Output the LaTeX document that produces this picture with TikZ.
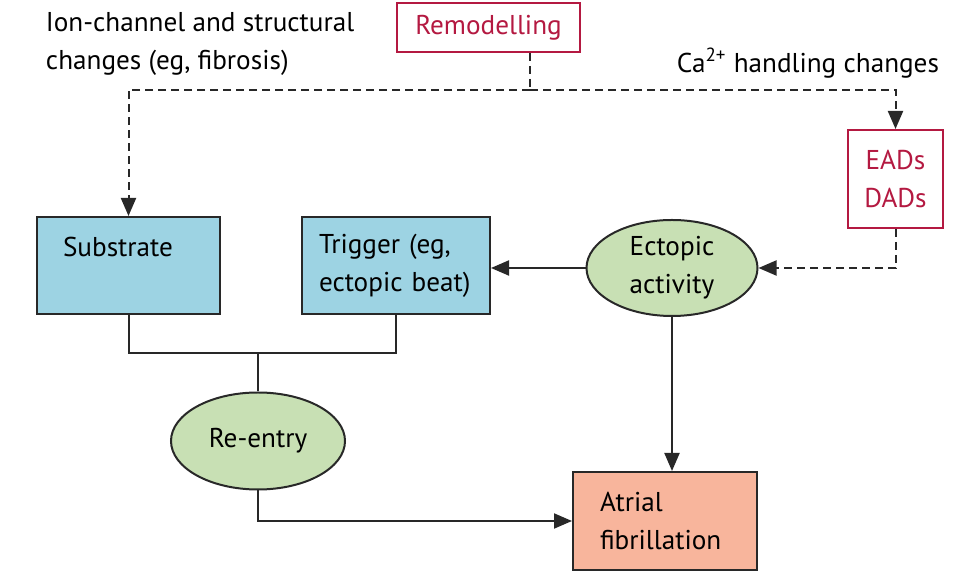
\documentclass[tikz,border=0pt]{standalone}
\usepackage{fontspec}
\setmainfont{PT Sans}
\usetikzlibrary{arrows.meta,shapes.geometric}

\definecolor{afred}{RGB}{180,25,65}
\definecolor{subblue}{RGB}{157,211,227}
\definecolor{ovgreen}{RGB}{200,224,180}
\definecolor{afpink}{RGB}{248,181,156}
\definecolor{edge}{RGB}{40,40,40}

\tikzset{every picture/.style={line width=1pt}}
\tikzset{
  box/.style={draw=edge, rectangle, align=left, inner xsep=0pt, inner ysep=0pt},
  oval/.style={draw=edge, ellipse, fill=ovgreen, align=center, inner sep=0pt},
  redbox/.style={draw=afred, text=afred, rectangle, align=center, inner sep=0pt},
  arr/.style={draw=edge, -{Triangle[length=9pt,width=7.5pt]}},
  dasharr/.style={arr, dash pattern=on 4pt off 2.5pt},
  dashline/.style={draw=edge, dash pattern=on 4pt off 2.5pt}
}

\begin{document}
\begin{tikzpicture}[x=0.5pt,y=-0.5pt]
\fontsize{13.6}{19}\selectfont
\useasboundingbox (0,0) rectangle (980,581);
% top labels
\node (remod) [redbox, minimum width=91.5pt, minimum height=24.5pt] at (488.5,27.5) {Remodelling};
\node (ionlbl) [anchor=west, align=left, inner sep=0pt] at (45,44) {Ion-channel and structural\\changes (eg, fibrosis)};
\node (calbl) [anchor=east, inner sep=0pt] at (940,63) {Ca\textsuperscript{2+} handling changes};
\node (eads) [redbox, minimum width=47.5pt, minimum height=49pt] at (895.5,179) {EADs\\DADs};
% middle row
\node (substrate) [box, fill=subblue, minimum width=91.5pt, minimum height=48.5pt, text width=65.5pt] at (128.5,265.5) {Substrate\\\mbox{}};
\node (trigger) [box, fill=subblue, minimum width=94pt, minimum height=48.5pt, text width=77pt] at (396,265.5) {Trigger (eg,\\ectopic beat)};
\node (ectopic) [oval, minimum width=85.5pt, minimum height=48pt] at (672,268) {Ectopic\\activity};
% bottom row
\node (reentry) [oval, minimum width=87pt, minimum height=48.5pt] at (258,441) {Re-entry};
\node (af) [box, fill=afpink, minimum width=92pt, minimum height=49pt, text width=65pt] at (665,521) {Atrial\\fibrillation};

\coordinate (fork) at (530,90);
\coordinate (join) at (258,353);

% remodelling paths
\draw [dashline] (remod.south -| fork) -- (fork);
\draw [dasharr] (fork) -| (substrate.north);
\draw [dasharr] (fork) -| (eads.north);
\draw [dasharr] (eads.south) |- (ectopic.east);
% solid paths
\draw [arr] (ectopic.west) -- (ectopic.west -| trigger.east);
\draw [draw=edge] (substrate.south) |- (join) -| (trigger.south);
\draw [draw=edge] (join) -- (reentry.north);
\draw [arr] (reentry.south) |- (af.west);
\draw [arr] (ectopic.south) -- (ectopic.south |- af.north);
\end{tikzpicture}
\end{document}
